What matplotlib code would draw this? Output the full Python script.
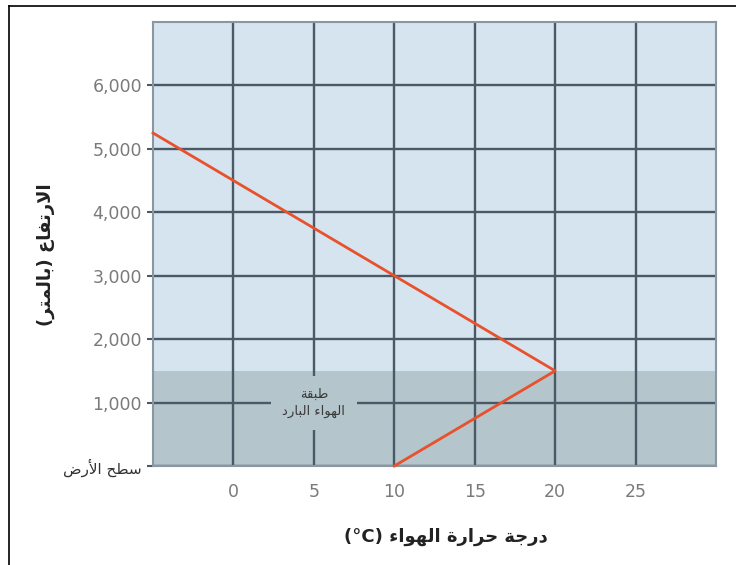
import matplotlib
matplotlib.use("Agg")
import matplotlib.pyplot as plt
from matplotlib.lines import Line2D

# ==========================================
# DATA
# ==========================================
temps = [10, 20, -5]            # air temperature (C)
heights = [0, 1500, 5250]       # altitude (m)
x_ticks = [0, 5, 10, 15, 20, 25]
y_ticks = [0, 1000, 2000, 3000, 4000, 5000, 6000]
y_tick_labels = ["سطح الأرض", "1,000", "2,000", "3,000", "4,000", "5,000", "6,000"]
cold_layer_top = 1500

XLABEL = "درجة حرارة الهواء"
YLABEL = "الارتفاع (بالمتر)"
NOTE_LINES = ["طبقة", "الهواء البارد"]

# ==========================================
# minimal arabic shaping (matplotlib has no shaping / bidi)
# ==========================================
# char: (isolated, final, initial, medial)
FORMS = {
    'ء': (0xFE80, None, None, None),
    'ا': (0xFE8D, 0xFE8E, None, None),
    'أ': (0xFE83, 0xFE84, None, None),
    'ب': (0xFE8F, 0xFE90, 0xFE91, 0xFE92),
    'ة': (0xFE93, 0xFE94, None, None),
    'ت': (0xFE95, 0xFE96, 0xFE97, 0xFE98),
    'ج': (0xFE9D, 0xFE9E, 0xFE9F, 0xFEA0),
    'ح': (0xFEA1, 0xFEA2, 0xFEA3, 0xFEA4),
    'د': (0xFEA9, 0xFEAA, None, None),
    'ر': (0xFEAD, 0xFEAE, None, None),
    'س': (0xFEB1, 0xFEB2, 0xFEB3, 0xFEB4),
    'ض': (0xFEBD, 0xFEBE, 0xFEBF, 0xFEC0),
    'ط': (0xFEC1, 0xFEC2, 0xFEC3, 0xFEC4),
    'ع': (0xFEC9, 0xFECA, 0xFECB, 0xFECC),
    'ف': (0xFED1, 0xFED2, 0xFED3, 0xFED4),
    'ق': (0xFED5, 0xFED6, 0xFED7, 0xFED8),
    'ل': (0xFEDD, 0xFEDE, 0xFEDF, 0xFEE0),
    'م': (0xFEE1, 0xFEE2, 0xFEE3, 0xFEE4),
    'ه': (0xFEE9, 0xFEEA, 0xFEEB, 0xFEEC),
    'و': (0xFEED, 0xFEEE, None, None),
    'ي': (0xFEF1, 0xFEF2, 0xFEF3, 0xFEF4),
}
LAM_ALEF = {'ا': (0xFEFB, 0xFEFC), 'أ': (0xFEF7, 0xFEF8)}


def joins_next(c):
    return c in FORMS and FORMS[c][2] is not None


def shape(text):
    # lam + alef become one ligature token
    toks = []
    i = 0
    while i < len(text):
        if text[i] == 'ل' and i + 1 < len(text) and text[i + 1] in LAM_ALEF:
            toks.append(('LA', text[i + 1]))
            i += 2
        else:
            toks.append((text[i], None))
            i += 1
    out = []
    for k, (c, extra) in enumerate(toks):
        prev = toks[k - 1][0] if k > 0 else None
        nxt = toks[k + 1][0] if k + 1 < len(toks) else None
        prev_j = prev is not None and prev != 'LA' and joins_next(prev)
        if c == 'LA':
            iso, fin = LAM_ALEF[extra]
            out.append(chr(fin if prev_j else iso))
            continue
        if c not in FORMS:
            out.append(c)
            continue
        iso, fin, ini, med = FORMS[c]
        next_j = joins_next(c) and nxt is not None and (nxt in FORMS or nxt == 'LA')
        if prev_j and next_j:
            out.append(chr(med))
        elif prev_j:
            out.append(chr(fin))
        elif next_j:
            out.append(chr(ini))
        else:
            out.append(chr(iso))
    return ''.join(out)


def rtl(text):
    mirror = {'(': ')', ')': '('}
    return ''.join(mirror.get(c, c) for c in reversed(shape(text)))


# ==========================================
# PLOT
# ==========================================
plt.rcParams['font.family'] = ['DejaVu Sans']

BG = '#d6e4ef'
SHADE = '#b4c5cc'
GRID = '#4b5967'
LINE = '#e8512b'
TICK = '#7a7a7a'

fig = plt.figure(figsize=(7.36, 5.65), dpi=100)
ax = fig.add_axes([153 / 736, 99 / 565, 563 / 736, 444 / 565])
ax.set_facecolor(BG)

ax.set_xlim(-5, 30)
ax.set_ylim(0, 7000)

ax.axhspan(0, cold_layer_top, color=SHADE, zorder=0.2, lw=0)

ax.set_xticks(x_ticks)
ax.set_yticks(y_ticks)
ax.set_yticklabels([rtl(y_tick_labels[0])] + y_tick_labels[1:])
ax.set_axisbelow(True)
ax.grid(True, color=GRID, lw=1.7)

ax.tick_params(axis='x', length=0, pad=12, labelsize=12.5, labelcolor=TICK)
ax.tick_params(axis='y', length=4, width=1.5, color=GRID, pad=4,
               labelsize=12.5, labelcolor=TICK)
ax.get_yticklabels()[0].set_color('#333333')
ax.get_yticklabels()[0].set_fontsize(11)

for s in ax.spines.values():
    s.set_color('#8a96a0')
    s.set_linewidth(1.5)

ax.plot(temps, heights, color=LINE, lw=2, zorder=4, clip_on=False)

ax.text(5, 1000, '\n'.join(rtl(t) for t in NOTE_LINES), ha='center', va='center',
        fontsize=9.5, color='#3a3a3a', linespacing=1.4, zorder=3,
        bbox=dict(boxstyle='square,pad=0.9', fc=SHADE, ec='none'))

ax.set_xlabel('(°C) ' + rtl(XLABEL), fontsize=13, fontweight='bold', color='#222222')
ax.set_ylabel(rtl(YLABEL), fontsize=13, fontweight='bold', color='#222222')
ax.xaxis.set_label_coords(0.52, -0.138)
ax.yaxis.set_label_coords(-0.174, 0.475)

# outer frame
fig.add_artist(Line2D([9 / 736, 9 / 736], [0, 1 - 6 / 565], color='black', lw=1.2))
fig.add_artist(Line2D([9 / 736, 1], [1 - 6 / 565, 1 - 6 / 565], color='black', lw=1.2))

fig.savefig('out.png', dpi=100)
